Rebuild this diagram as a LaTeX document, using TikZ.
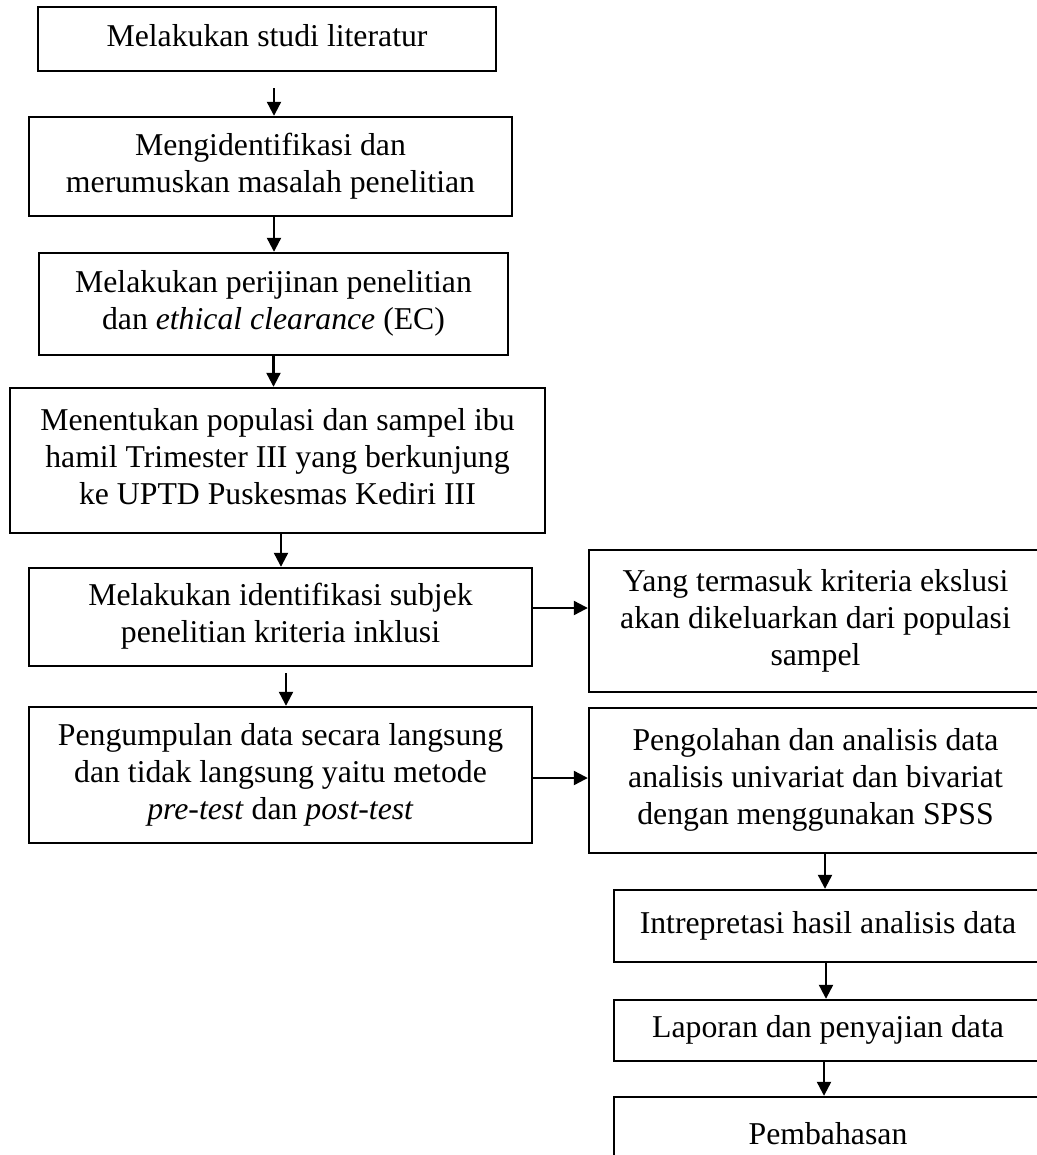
\documentclass[tikz,border=0pt]{standalone}
\usepackage{fontspec}
\setmainfont{Liberation Serif}
\usetikzlibrary{arrows.meta}
\tikzset{
  box/.style={draw, line width=1.2pt, rectangle, inner sep=0pt, align=center,
    font=\fontsize{15.875}{18.5}\selectfont},
  arr/.style={line width=1.1pt, -{Triangle[length=7pt,width=7pt]}}
}
\begin{document}
\begin{tikzpicture}[x=0.5pt,y=-0.5pt]
\useasboundingbox (0,0) rectangle (1037,1155);
\fill[white] (0,0) rectangle (1037,1155);
\clip (0,0) rectangle (1037,1155);

\node[box, minimum width=229pt, minimum height=32pt] (B1) at (267,39)
  {\strut Melakukan studi literatur};
\node[box, minimum width=241.5pt, minimum height=49.5pt] (B2) at (270.5,166.5)
  {\strut Mengidentifikasi dan\\\strut merumuskan masalah penelitian};
\node[box, minimum width=234.5pt, minimum height=51pt] (B3) at (273.5,304)
  {\strut Melakukan perijinan penelitian\\\strut dan \textit{ethical clearance} (EC)};
\node[box, minimum width=267.5pt, minimum height=72.5pt] (B4) at (277.5,460.5)
  {\strut Menentukan populasi dan sampel ibu\\\strut hamil Trimester III yang berkunjung\\\strut ke UPTD Puskesmas Kediri III};
\node[box, minimum width=251.5pt, minimum height=49pt] (B5) at (280.5,617)
  {\strut Melakukan identifikasi subjek\\\strut penelitian kriteria inklusi};
\node[box, minimum width=251.5pt, minimum height=68pt] (B6) at (280.5,775)
  {\strut Pengumpulan data secara langsung\\\strut dan tidak langsung yaitu metode\\\strut \textit{pre-test} dan \textit{post-test}};
\node[box, minimum width=226.5pt, minimum height=71pt] (B7) at (815.5,621)
  {\strut Yang termasuk kriteria ekslusi\\\strut akan dikeluarkan dari populasi\\\strut sampel};
\node[box, minimum width=226.5pt, minimum height=72.5pt] (B8) at (815.5,780.5)
  {\strut Pengolahan dan analisis data\\\strut analisis univariat dan bivariat\\\strut dengan menggunakan SPSS};
\node[box, minimum width=214pt, minimum height=36pt] (B9) at (828,926)
  {\strut Intrepretasi hasil analisis data};
\node[box, minimum width=214pt, minimum height=30.5pt] (B10) at (828,1030.5)
  {\strut Laporan dan penyajian data};
\node[box, minimum width=214pt, minimum height=40.5pt] (B11) at (828,1137.5)
  {\strut Pembahasan};

\draw[arr] ([xshift=3.5pt,yshift=-8pt]B1.south) -- ([xshift=3.5pt]B1.south |- B2.north);
\draw[arr] ([xshift=1.75pt]B2.south) -- ([xshift=1.75pt]B2.south |- B3.north);
\draw[arr] (B3.south) -- (B3.south |- B4.north);
\draw[arr] ([xshift=1.75pt]B4.south) -- ([xshift=1.75pt]B4.south |- B5.north);
\draw[arr] ([xshift=2.75pt,yshift=-3pt]B5.south) -- ([xshift=2.75pt]B5.south |- B6.north);
\draw[arr] ([yshift=4.5pt]B5.east) -- ([yshift=4.5pt]B5.east -| B7.west);
\draw[arr] ([yshift=-1.5pt]B6.east) -- ([yshift=-1.5pt]B6.east -| B8.west);
\draw[arr] ([xshift=4.75pt]B8.south) -- ([xshift=4.75pt]B8.south |- B9.north);
\draw[arr] ([xshift=-1pt]B9.south) -- ([xshift=-1pt]B9.south |- B10.north);
\draw[arr] ([xshift=-2pt]B10.south) -- ([xshift=-2pt]B10.south |- B11.north);
\end{tikzpicture}
\end{document}
